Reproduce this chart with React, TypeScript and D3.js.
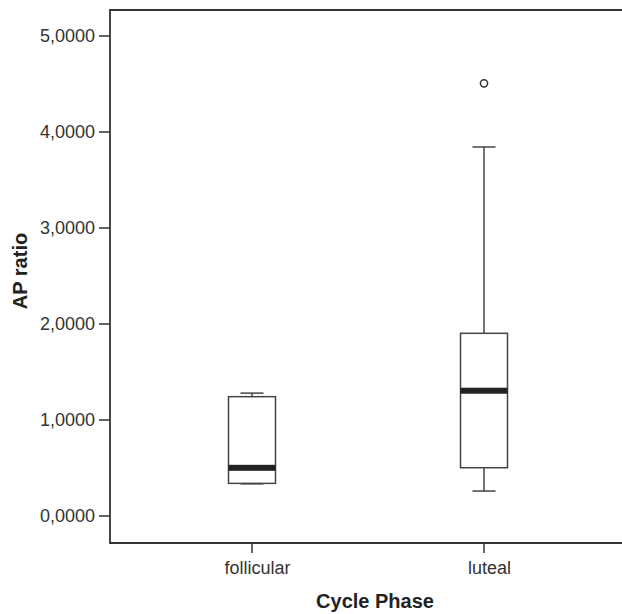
import React from "react";
import * as d3 from "d3";

const categories = ["follicular", "luteal"];
const whiskerLow = [0.335, 0.26];
const q1 = [0.34, 0.503];
const median = [0.502, 1.305];
const q3 = [1.243, 1.903];
const whiskerHigh = [1.28, 3.844];
const outliers: number[][] = [[], [4.507]];
const yTicks = [0, 1, 2, 3, 4, 5];

const W = 622;
const H = 614;
const FONT = "'Liberation Sans', Arial, Helvetica, sans-serif";

export default function App() {
  const frameLeft = 110;
  const frameRight = 626;
  const frameTop = 10;
  const frameBottom = 543;

  const x = d3.scalePoint<string>().domain(categories).range([frameLeft, frameRight]).padding(0.612);
  const y = d3.scaleLinear().domain([0, 5]).range([516, 36]);
  const fmt = (v: number) => d3.format(".4f")(v).replace(".", ",");

  const boxW = 47;
  const capW = 23;
  const stroke = "#444";

  return (
    <div style={{ position: "fixed", left: 0, top: 0 }}>
      <svg width={W} height={H} style={{ display: "block", background: "#fff" }}>
        {/* frame (right side lies outside the picture) */}
        <path
          d={`M${W + 5},${frameTop}H${frameLeft}V${frameBottom}H${W + 5}`}
          fill="none"
          stroke="#333"
          strokeWidth={1.8}
        />
        {/* y ticks */}
        {yTicks.map((t) => (
          <g key={t}>
            <line x1={frameLeft - 11} x2={frameLeft} y1={y(t)} y2={y(t)} stroke="#333" strokeWidth={1.5} />
            <text
              x={frameLeft - 15}
              y={y(t)}
              dy="0.35em"
              textAnchor="end"
              fontFamily={FONT}
              fontSize={18}
              fill="#333"
            >
              {fmt(t)}
            </text>
          </g>
        ))}
        {/* x ticks */}
        {categories.map((c) => (
          <g key={c}>
            <line x1={x(c)!} x2={x(c)!} y1={frameBottom} y2={frameBottom + 10} stroke="#333" strokeWidth={1.5} />
            <text
              x={x(c)! + 5.5}
              y={574}
              textAnchor="middle"
              fontFamily={FONT}
              fontSize={18}
              fill="#333"
            >
              {c}
            </text>
          </g>
        ))}
        {/* boxes */}
        {categories.map((c, i) => {
          const cx = x(c)!;
          return (
            <g key={c}>
              <line x1={cx} x2={cx} y1={y(whiskerHigh[i])} y2={y(q3[i])} stroke={stroke} strokeWidth={1.5} />
              <line x1={cx} x2={cx} y1={y(q1[i])} y2={y(whiskerLow[i])} stroke={stroke} strokeWidth={1.5} />
              <line
                x1={cx - capW / 2}
                x2={cx + capW / 2}
                y1={y(whiskerHigh[i])}
                y2={y(whiskerHigh[i])}
                stroke={stroke}
                strokeWidth={1.5}
              />
              <line
                x1={cx - capW / 2}
                x2={cx + capW / 2}
                y1={y(whiskerLow[i])}
                y2={y(whiskerLow[i])}
                stroke={stroke}
                strokeWidth={1.5}
              />
              <rect
                x={cx - boxW / 2}
                y={y(q3[i])}
                width={boxW}
                height={y(q1[i]) - y(q3[i])}
                fill="#fff"
                stroke={stroke}
                strokeWidth={1.5}
              />
              <rect x={cx - boxW / 2} y={y(median[i]) - 3} width={boxW} height={6} fill="#222" />
              {outliers[i].map((o, j) => (
                <circle key={j} cx={cx} cy={y(o)} r={3.6} fill="none" stroke="#333" strokeWidth={1.5} />
              ))}
            </g>
          );
        })}
        {/* axis titles */}
        <text
          transform={`translate(27, 271) rotate(-90)`}
          textAnchor="middle"
          fontFamily={FONT}
          fontSize={20}
          fontWeight="bold"
          fill="#222"
        >
          AP ratio
        </text>
        <text x={375} y={608} textAnchor="middle" fontFamily={FONT} fontSize={20} fontWeight="bold" fill="#222">
          Cycle Phase
        </text>
      </svg>
    </div>
  );
}
